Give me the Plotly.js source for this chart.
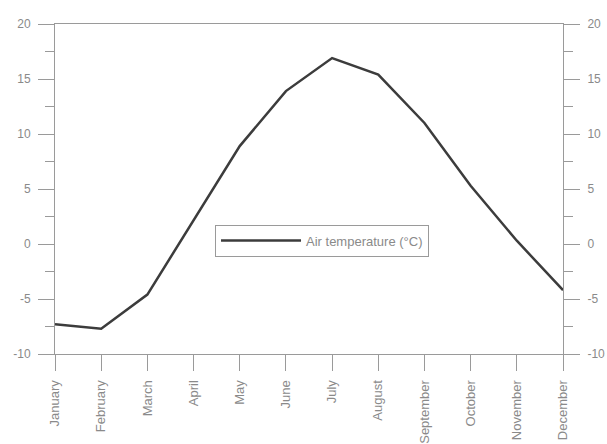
<!DOCTYPE html>
<html>
<head>
<meta charset="utf-8">
<script src="https://cdn.plot.ly/plotly-3.0.1.min.js"></script>
<style>html,body{margin:0;padding:0;background:#fff;}#chart{width:607px;height:444px;}</style>
</head>
<body>
<div id="chart"></div>
<script>
var months = ["January","February","March","April","May","June","July","August","September","October","November","December"];
var airTemperature = [-7.3, -7.7, -4.6, 2.2, 8.9, 13.9, 16.9, 15.4, 11.0, 5.3, 0.3, -4.2];
var yTickVals = [-10, -5, 0, 5, 10, 15, 20];
var yTickText = ["-10", "-5", "0", "5", "10", "15", "20"];

var xIdx = months.map(function(m, i){ return i; });
var axisColor = "#9a9a9a";
var textColor = "#8a8a8a";
var fontFam = "Liberation Sans, Arial, sans-serif";

var yCommon = {
  range: [-10, 20],
  tickvals: yTickVals,
  ticktext: yTickText,
  ticks: "outside",
  ticklen: 16,
  tickwidth: 1,
  tickcolor: axisColor,
  ticklabelstandoff: 5,
  showline: true,
  linecolor: axisColor,
  linewidth: 1,
  showgrid: false,
  zeroline: false,
  minor: {dtick: 2.5, tick0: 0, ticks: "outside", ticklen: 9, tickcolor: axisColor, tickwidth: 1, showgrid: false},
  tickfont: {family: fontFam, size: 12, color: textColor},
  fixedrange: true
};

var traces = [
  {
    x: xIdx, y: airTemperature, type: "scatter", mode: "lines",
    name: "Air temperature (\u00b0C)",
    line: {color: "#3c3c3c", width: 2.5}
  },
  {
    x: xIdx, y: airTemperature, type: "scatter", mode: "lines",
    yaxis: "y2", showlegend: false, hoverinfo: "skip",
    line: {color: "rgba(0,0,0,0)", width: 0}
  }
];

var layout = {
  width: 607, height: 444,
  margin: {l: 55, r: 44, t: 24, b: 90},
  paper_bgcolor: "#ffffff",
  plot_bgcolor: "#ffffff",
  showlegend: true,
  legend: {
    x: 0.315, y: 0.392, xanchor: "left", yanchor: "top",
    bgcolor: "#ffffff", bordercolor: axisColor, borderwidth: 1,
    font: {family: fontFam, size: 13, color: textColor},
    itemwidth: 80
  },
  xaxis: {
    range: [0, 11],
    tickvals: xIdx,
    ticktext: months,
    tickangle: -90,
    ticks: "outside",
    ticklen: 16,
    tickwidth: 1,
    tickcolor: axisColor,
    ticklabelstandoff: 4,
    showline: true,
    linecolor: axisColor,
    linewidth: 1,
    mirror: true,
    showgrid: false,
    zeroline: false,
    tickfont: {family: fontFam, size: 13, color: textColor},
    fixedrange: true
  },
  yaxis: Object.assign({}, yCommon, {side: "left"}),
  yaxis2: Object.assign({}, yCommon, {side: "right", overlaying: "y"})
};

Plotly.newPlot("chart", traces, layout, {displayModeBar: false, staticPlot: true});
</script>
</body>
</html>
